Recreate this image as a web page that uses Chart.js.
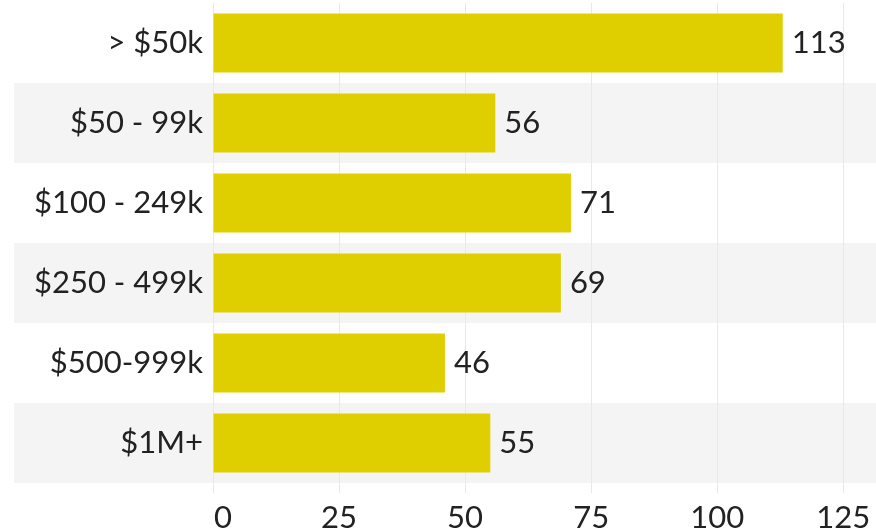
<!DOCTYPE html>
<html>
<head>
<meta charset="utf-8">
<script src="https://cdn.jsdelivr.net/npm/chart.js@4"></script>
<style>
  html, body { margin: 0; padding: 0; background: #fff; }
  #wrap { width: 876px; height: 532px; }
</style>
</head>
<body>
<div id="wrap"><canvas id="incomeChart" width="876" height="532"></canvas></div>
<script>
const categories = ['> $50k', '$50 - 99k', '$100 - 249k', '$250 - 499k', '$500-999k', '$1M+'];
const counts = [113, 56, 71, 69, 46, 55];
const xTicks = [0, 25, 50, 75, 100, 125];

const FONT = 'Lato';
const TEXT = '#222';
const SIZE = 31;

// stripes behind every other row
const rowBands = {
  id: 'rowBands',
  beforeDraw(chart) {
    const { ctx, scales: { y }, width } = chart;
    const step = Math.abs(y.getPixelForValue(1) - y.getPixelForValue(0));
    ctx.save();
    ctx.fillStyle = '#f4f4f4';
    categories.forEach((c, i) => {
      if (i % 2 === 1) {
        const mid = y.getPixelForValue(i);
        ctx.fillRect(14, mid - step / 2, width - 14, step);
      }
    });
    ctx.restore();
  }
};

// numbers at the end of each bar + x tick labels (first one sits right of its line)
const textLayer = {
  id: 'textLayer',
  afterDatasetsDraw(chart) {
    const { ctx, scales: { x } } = chart;
    const meta = chart.getDatasetMeta(0);
    ctx.save();
    ctx.font = SIZE + 'px ' + FONT;
    ctx.fillStyle = TEXT;
    ctx.textAlign = 'left';
    ctx.textBaseline = 'middle';
    meta.data.forEach((bar, i) => {
      ctx.fillText(String(counts[i]), bar.x + 9, bar.y);
    });
    ctx.textBaseline = 'alphabetic';
    xTicks.forEach((v, i) => {
      ctx.textAlign = i === 0 ? 'left' : 'center';
      ctx.fillText(String(v), x.getPixelForValue(v) + (i === 0 ? 1 : 0), 528);
    });
    ctx.restore();
  }
};

const draw = () => {
  const ctx = document.getElementById('incomeChart').getContext('2d');
  new Chart(ctx, {
    type: 'bar',
    data: {
      labels: categories,
      datasets: [{
        data: counts,
        backgroundColor: '#e0cf00',
        borderWidth: 0,
        categoryPercentage: 1,
        barPercentage: 0.74
      }]
    },
    options: {
      indexAxis: 'y',
      responsive: false,
      animation: false,
      layout: { padding: { top: 3, left: 0, right: 0, bottom: 0 } },
      plugins: { legend: { display: false }, tooltip: { enabled: false } },
      scales: {
        x: {
          min: 0,
          max: 131.5,
          afterFit: (s) => { s.height = 49; s.paddingLeft = 0; s.paddingRight = 0; },
          afterBuildTicks: (s) => { s.ticks = xTicks.map(v => ({ value: v })); },
          grid: { color: '#e9e9e9', lineWidth: 1, tickLength: 10 },
          border: { display: false },
          ticks: { display: false }
        },
        y: {
          afterFit: (s) => { s.width = 213; s.paddingTop = 0; s.paddingBottom = 0; },
          grid: { display: false, drawTicks: false },
          border: { display: false },
          ticks: { color: TEXT, font: { family: FONT, size: SIZE }, padding: 10 }
        }
      }
    },
    plugins: [rowBands, textLayer]
  });
};

document.fonts.load(SIZE + 'px ' + FONT).then(draw, draw);
</script>
</body>
</html>
